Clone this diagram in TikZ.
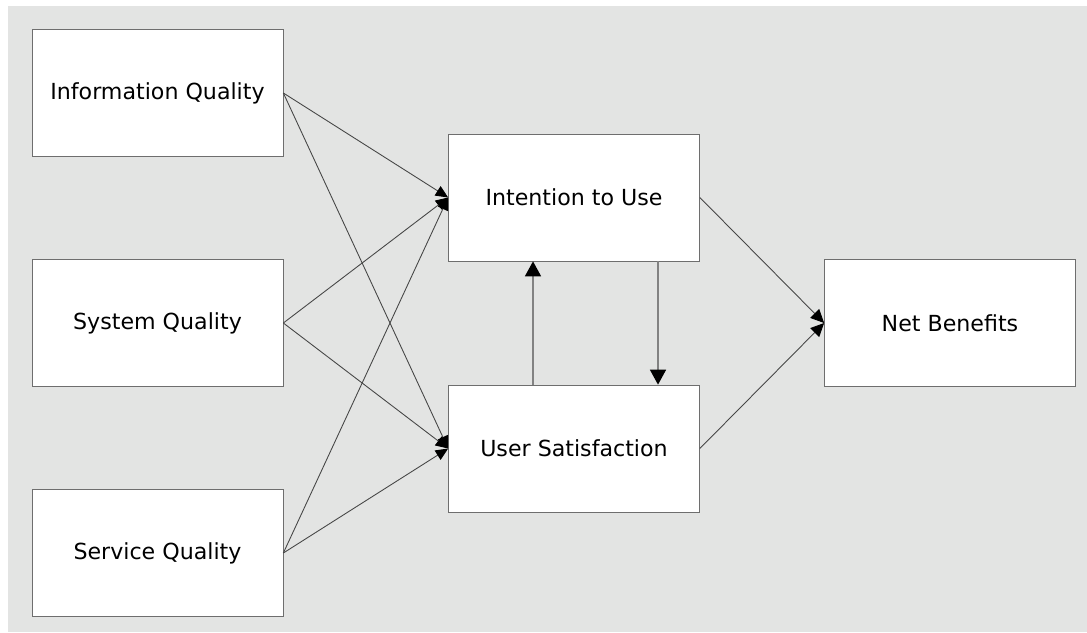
\documentclass[tikz,border=0pt]{standalone}
\usepackage{fontspec}
\setmainfont{DejaVu Sans}
\usetikzlibrary{arrows.meta}
\definecolor{bggrey}{RGB}{227,228,227}
\definecolor{boxline}{RGB}{110,110,110}
\definecolor{thinline}{RGB}{70,70,70}
\definecolor{upline}{RGB}{130,130,130}
\begin{document}
\begin{tikzpicture}[
  block/.style={draw=boxline,fill=white,minimum width=5.02cm,minimum height=2.54cm,
    font=\fontsize{12.6}{15}\selectfont},
  feedarrow/.style={draw=thinline,line width=.5pt,-{Triangle[length=.25cm,width=.22cm,color=black]}},
  looparrow/.style={draw=upline,line width=.9pt,-{Triangle[length=.3cm,width=.32cm,color=black]}},
  benefitarrow/.style={draw=thinline,line width=.5pt,-{Triangle[length=.27cm,width=.25cm,color=black]}}]
\useasboundingbox (0,0) rectangle (21.74,-12.64);
\fill[bggrey] (.16,-.12) rectangle (21.74,-12.64);
\node[block] (infoq) at(3.15,-1.86) {Information Quality};
\node[block] (sysq) at(3.15,-6.46) {System Quality};
\node[block] (servq) at(3.15,-11.06) {Service Quality};
\node[block] (intent) at(11.48,-3.95) {Intention to Use};
\node[block] (usersat) at(11.48,-8.97) {User Satisfaction};
\node[block] (netben) at(19,-6.46) {Net Benefits};
% quality -> use / satisfaction
\draw[feedarrow] (infoq.east) -- (intent.west);
\draw[feedarrow] (infoq.east) -- (usersat.west);
\draw[feedarrow] (sysq.east) -- (intent.west);
\draw[feedarrow] (sysq.east) -- (usersat.west);
\draw[feedarrow] (servq.east) -- (intent.west);
\draw[feedarrow] (servq.east) -- (usersat.west);
% between use and satisfaction
\draw[looparrow] ([xshift=-.82cm]usersat.north) -- ([xshift=-.82cm]intent.south);
\draw[looparrow] ([xshift=1.68cm]intent.south) -- ([xshift=1.68cm]usersat.north);
% to net benefits
\draw[benefitarrow] (intent.east) -- (netben.west);
\draw[benefitarrow] (usersat.east) -- (netben.west);
\end{tikzpicture}
\end{document}
